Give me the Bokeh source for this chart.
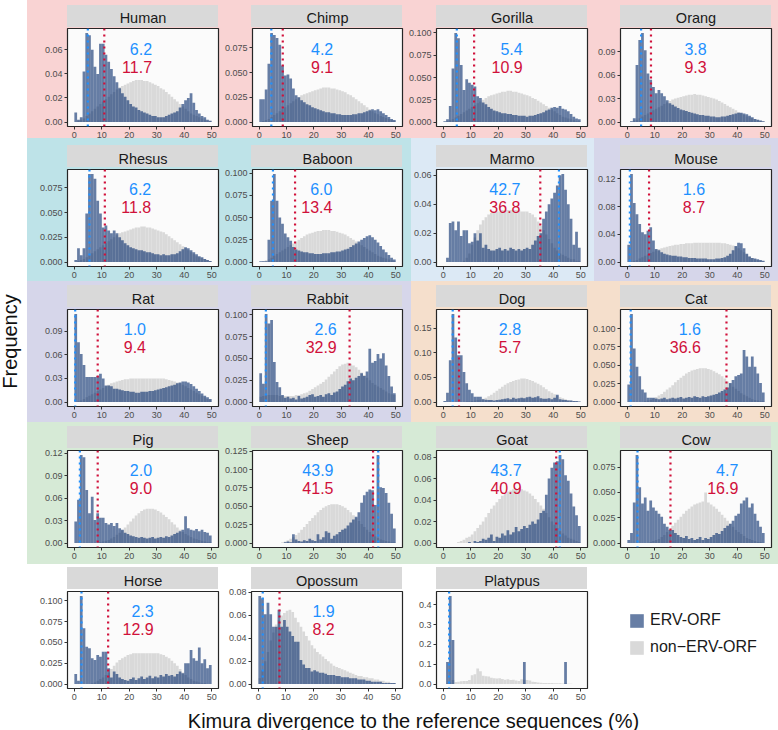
import math
from bokeh.plotting import figure
from bokeh.layouts import row, column
from bokeh.models import (Range1d, FixedTicker, PrintfTickFormatter, Span, Label,
                          Legend, LegendItem)
from bokeh.embed import file_html
from bokeh.resources import INLINE

# ---------------------------------------------------------------- data
species = ["Human", "Chimp", "Gorilla", "Orang", "Rhesus", "Baboon", "Marmo", "Mouse",
           "Rat", "Rabbit", "Dog", "Cat", "Pig", "Sheep", "Goat", "Cow",
           "Horse", "Opossum", "Platypus"]

# histogram frequencies (in thousandths) for the 1%-wide bins [0,1), [1,2) ... [49,50)
erv_human = [8, 2, 4, 42, 74, 72, 60, 46, 40, 65, 65, 56, 50, 44, 38, 33, 28, 24, 21, 18,
             15, 13, 12, 10, 9, 8, 7, 6, 5, 5, 4, 4, 4, 5, 6, 7, 8, 9, 12, 15,
             18, 20, 24, 16, 10, 7, 5, 4, 2, 1]
non_human = [0, 1, 2, 3, 5, 7, 9, 11, 13, 15, 17, 19, 21, 23, 25, 27, 29, 30, 31, 32,
             33, 34, 35, 35, 35, 34, 34, 33, 32, 31, 30, 28, 27, 25, 23, 21, 19, 17, 15, 13,
             11, 9, 7, 6, 5, 4, 3, 2, 1, 1]
erv_chimp = [23, 23, 33, 59, 90, 88, 85, 78, 57, 47, 48, 44, 34, 27, 25, 22, 20, 18, 17, 15,
             14, 13, 12, 11, 10, 10, 9, 9, 8, 8, 7, 7, 7, 7, 8, 8, 9, 9, 10, 11,
             12, 13, 12, 13, 11, 9, 7, 5, 3, 2]
non_chimp = [0, 1, 2, 3, 5, 7, 9, 11, 13, 15, 17, 19, 21, 23, 25, 27, 28, 29, 30, 31,
             32, 33, 34, 35, 35, 35, 34, 34, 33, 32, 31, 30, 28, 27, 25, 23, 21, 19, 17, 15,
             13, 11, 9, 8, 6, 5, 4, 3, 2, 1]
erv_gorilla = [1, 3, 18, 60, 100, 94, 64, 36, 48, 44, 42, 40, 29, 27, 22, 20, 17, 15, 13, 12,
               11, 10, 10, 9, 9, 8, 8, 7, 7, 7, 6, 7, 7, 8, 9, 10, 11, 13, 14, 16,
               17, 16, 18, 15, 14, 12, 9, 6, 4, 3]
non_gorilla = [0, 1, 2, 3, 5, 7, 9, 11, 13, 15, 17, 19, 21, 23, 25, 27, 29, 30, 31, 32,
               33, 34, 34, 35, 35, 34, 34, 33, 32, 31, 30, 29, 27, 26, 24, 22, 20, 18, 16, 14,
               12, 10, 8, 6, 5, 4, 3, 2, 1, 1]
erv_orang = [0, 1, 5, 73, 105, 114, 92, 62, 54, 45, 37, 41, 37, 33, 28, 24, 22, 20, 18, 16,
             15, 14, 13, 12, 11, 10, 9, 9, 8, 8, 7, 7, 6, 6, 7, 7, 8, 9, 10, 11,
             12, 12, 11, 10, 8, 6, 4, 3, 2, 1]
non_orang = [0, 1, 2, 3, 5, 7, 9, 11, 13, 15, 17, 19, 21, 23, 25, 27, 29, 30, 31, 32,
             33, 34, 35, 35, 36, 35, 35, 34, 33, 32, 31, 30, 29, 27, 25, 23, 21, 19, 17, 15,
             13, 11, 9, 7, 6, 5, 4, 3, 2, 1]
erv_rhesus = [2, 14, 7, 14, 49, 89, 89, 84, 62, 49, 35, 37, 32, 29, 32, 29, 25, 22, 19, 17,
              15, 14, 13, 12, 12, 11, 10, 10, 9, 8, 8, 7, 8, 7, 7, 8, 8, 9, 11, 13,
              15, 14, 12, 10, 8, 6, 5, 3, 2, 1]
non_rhesus = [0, 1, 2, 3, 5, 7, 9, 11, 13, 15, 17, 19, 21, 23, 25, 27, 29, 30, 31, 32,
              33, 34, 35, 35, 36, 36, 35, 35, 34, 33, 32, 31, 30, 28, 26, 24, 22, 20, 18, 16,
              14, 12, 10, 8, 6, 5, 4, 3, 2, 1]
erv_baboon = [1, 1, 1, 25, 69, 99, 69, 50, 43, 32, 28, 24, 17, 14, 13, 12, 11, 11, 10, 10,
              9, 9, 9, 10, 10, 10, 11, 11, 12, 12, 13, 14, 15, 17, 19, 21, 23, 25, 27, 29,
              30, 28, 25, 22, 18, 14, 11, 8, 5, 3]
non_baboon = [0, 1, 2, 3, 5, 7, 9, 11, 13, 15, 17, 19, 21, 23, 25, 27, 29, 31, 32, 33,
              34, 35, 35, 36, 36, 36, 35, 35, 34, 33, 32, 31, 29, 27, 25, 23, 21, 19, 17, 15,
              13, 11, 9, 7, 6, 5, 4, 3, 2, 1]
erv_marmo = [0, 3, 27, 28, 22, 28, 18, 22, 22, 13, 14, 20, 15, 20, 10, 12, 9, 8, 8, 9,
             10, 8, 9, 8, 10, 9, 8, 9, 8, 9, 10, 9, 12, 15, 18, 20, 30, 35, 40, 44,
             48, 53, 60, 61, 50, 40, 30, 12, 21, 10]
non_marmo = [0, 0, 0, 0, 0, 0, 0, 1, 3, 6, 12, 17, 22, 26, 29, 31, 33, 34, 35, 35,
             35, 36, 36, 36, 36, 36, 36, 36, 35, 35, 35, 34, 33, 31, 28, 25, 22, 19, 16, 13,
             10, 8, 6, 5, 4, 3, 2, 2, 1, 1]
erv_mouse = [25, 127, 85, 69, 55, 43, 40, 45, 50, 31, 19, 17, 14, 12, 11, 10, 9, 9, 8, 8,
             7, 7, 6, 6, 6, 5, 5, 5, 5, 4, 4, 4, 5, 5, 6, 7, 9, 12, 17, 23,
             28, 27, 20, 12, 8, 6, 5, 4, 3, 2]
non_mouse = [0, 1, 2, 3, 5, 7, 9, 11, 13, 15, 17, 19, 20, 21, 22, 23, 24, 25, 25, 26,
             26, 27, 27, 27, 28, 28, 28, 28, 28, 28, 28, 28, 28, 28, 27, 27, 26, 25, 24, 22,
             20, 17, 14, 11, 8, 6, 4, 3, 2, 1]
erv_rat = [112, 76, 61, 47, 32, 32, 32, 32, 33, 36, 30, 21, 21, 20, 17, 17, 16, 15, 14, 14,
           13, 13, 12, 12, 13, 13, 13, 14, 14, 15, 16, 17, 18, 19, 20, 21, 22, 24, 25, 26,
           26, 25, 23, 20, 17, 14, 11, 8, 6, 4]
non_rat = [0, 1, 2, 4, 6, 8, 10, 12, 14, 16, 18, 20, 22, 24, 25, 26, 27, 28, 29, 29,
           30, 30, 30, 30, 30, 30, 30, 30, 30, 30, 30, 30, 30, 29, 28, 27, 26, 25, 24, 22,
           20, 18, 16, 14, 12, 10, 8, 6, 4, 3]
erv_rabbit = [33, 21, 101, 90, 94, 46, 23, 17, 8, 5, 6, 4, 5, 3, 7, 4, 5, 6, 8, 9,
              6, 7, 8, 6, 9, 10, 8, 11, 12, 15, 18, 20, 24, 27, 25, 28, 30, 33, 30, 35,
              61, 45, 47, 55, 50, 56, 42, 30, 18, 10]
non_rabbit = [6, 7, 8, 8, 8, 8, 8, 7, 7, 7, 7, 7, 7, 8, 8, 9, 10, 11, 13, 15,
              17, 19, 21, 23, 26, 29, 32, 35, 38, 41, 43, 44, 45, 44, 42, 40, 37, 34, 31, 28,
              25, 22, 20, 18, 16, 14, 12, 10, 9, 8]
erv_dog = [2, 19, 85, 179, 131, 95, 95, 61, 38, 25, 18, 11, 11, 11, 6, 5, 4, 4, 3, 4,
           5, 6, 7, 8, 6, 9, 7, 8, 9, 8, 10, 11, 9, 10, 12, 8, 7, 7, 8, 6,
           9, 15, 6, 5, 4, 3, 3, 2, 2, 1]
non_dog = [0, 0, 0, 0, 0, 0, 0, 0, 1, 1, 2, 3, 4, 5, 7, 9, 12, 15, 19, 23,
           27, 31, 35, 38, 41, 43, 45, 46, 48, 48, 47, 45, 43, 40, 37, 34, 30, 26, 22, 19,
           16, 13, 10, 8, 6, 4, 3, 2, 1, 1]
erv_cat = [24, 120, 73, 48, 35, 17, 13, 6, 6, 6, 5, 4, 5, 6, 4, 5, 6, 5, 6, 7,
           5, 6, 7, 6, 8, 7, 6, 8, 7, 8, 9, 10, 11, 13, 15, 17, 20, 26, 30, 35,
           37, 39, 71, 62, 48, 62, 48, 39, 26, 13]
non_cat = [0, 0, 0, 0, 0, 0, 1, 2, 3, 5, 7, 9, 11, 14, 17, 20, 23, 27, 30, 33,
           36, 39, 41, 43, 44, 45, 46, 46, 46, 45, 44, 42, 40, 38, 35, 32, 28, 25, 21, 18,
           15, 12, 10, 8, 6, 4, 3, 2, 1, 1]
erv_pig = [29, 58, 118, 115, 71, 40, 62, 31, 40, 34, 34, 27, 25, 27, 23, 27, 20, 18, 14, 12,
           10, 9, 8, 7, 8, 7, 6, 7, 8, 6, 7, 8, 7, 9, 8, 10, 12, 14, 16, 18,
           36, 20, 18, 17, 19, 16, 18, 15, 14, 10]
non_pig = [0, 0, 0, 0, 0, 0, 0, 0, 0, 1, 2, 3, 4, 6, 8, 11, 14, 17, 21, 25,
           29, 33, 37, 40, 43, 45, 46, 46, 46, 45, 43, 41, 38, 35, 32, 28, 25, 21, 18, 15,
           12, 10, 8, 6, 5, 4, 3, 2, 1, 1]
erv_sheep = [0, 0, 0, 0, 0, 0, 0, 0, 0, 1, 2, 1, 12, 5, 3, 2, 4, 3, 6, 4,
             3, 12, 5, 8, 16, 14, 6, 10, 12, 15, 18, 20, 24, 28, 32, 36, 42, 55, 65, 70,
             73, 72, 52, 120, 76, 75, 68, 55, 40, 20]
non_sheep = [0, 0, 0, 0, 0, 0, 0, 0, 1, 2, 4, 6, 8, 11, 14, 18, 22, 26, 30, 34,
             38, 42, 45, 48, 50, 52, 53, 53, 53, 52, 50, 48, 45, 42, 38, 34, 30, 26, 22, 18,
             15, 12, 9, 7, 5, 4, 3, 2, 1, 1]
erv_goat = [0, 0, 0, 0, 0, 0, 0, 0, 0, 1, 0, 2, 1, 2, 4, 3, 5, 8, 2, 6,
            5, 9, 7, 12, 8, 10, 15, 11, 13, 16, 14, 17, 20, 18, 22, 28, 30, 45, 60, 70,
            75, 76, 82, 78, 63, 58, 46, 34, 26, 16]
non_goat = [0, 0, 0, 0, 0, 1, 2, 3, 5, 6, 8, 11, 14, 17, 20, 24, 28, 32, 35, 38,
            41, 44, 46, 48, 49, 50, 50, 50, 50, 49, 48, 46, 44, 41, 38, 35, 32, 28, 24, 20,
            17, 14, 11, 9, 7, 5, 4, 3, 2, 1]
erv_cow = [3, 10, 40, 87, 55, 39, 45, 32, 42, 35, 32, 29, 26, 19, 16, 13, 13, 10, 8, 6,
           5, 7, 4, 5, 3, 4, 6, 3, 5, 4, 6, 8, 10, 9, 12, 15, 17, 19, 22, 27,
           29, 39, 42, 45, 35, 39, 29, 22, 16, 10]
non_cow = [0, 0, 0, 0, 0, 0, 0, 0, 1, 2, 3, 4, 6, 8, 11, 14, 17, 20, 23, 26,
           29, 32, 34, 36, 38, 39, 40, 41, 50, 40, 38, 36, 34, 31, 28, 25, 22, 19, 16, 13,
           11, 9, 7, 5, 4, 3, 2, 1, 1, 0]
erv_horse = [12, 4, 106, 67, 45, 43, 31, 29, 35, 33, 39, 39, 19, 8, 15, 12, 8, 6, 5, 4,
             6, 8, 5, 7, 9, 6, 8, 10, 7, 9, 8, 11, 9, 12, 10, 11, 9, 12, 15, 13,
             25, 25, 41, 31, 28, 44, 25, 30, 19, 23]
non_horse = [0, 0, 0, 0, 0, 0, 1, 2, 4, 6, 8, 11, 14, 18, 22, 26, 29, 31, 33, 35,
             36, 37, 37, 37, 37, 37, 37, 37, 37, 37, 37, 36, 35, 33, 31, 28, 25, 22, 18, 14,
             11, 8, 6, 4, 3, 2, 1, 1, 0, 0]
erv_opossum = [77, 75, 61, 71, 61, 50, 50, 65, 50, 56, 50, 46, 42, 37, 37, 21, 17, 14, 14, 11,
               12, 11, 10, 10, 9, 8, 8, 8, 7, 7, 6, 6, 6, 5, 5, 5, 4, 4, 4, 3,
               3, 2, 2, 2, 2, 1, 1, 1, 1, 1]
non_opossum = [5, 12, 20, 28, 38, 45, 52, 56, 60, 62, 64, 65, 63, 58, 54, 50, 46, 42, 38, 34,
               31, 28, 26, 24, 22, 20, 18, 16, 15, 14, 13, 12, 11, 10, 9, 8, 7, 7, 6, 6,
               5, 5, 4, 4, 3, 3, 2, 2, 1, 1]
erv_platypus = [0, 111, 444, 222, 0, 0, 0, 0, 0, 0, 0, 0, 0, 0, 0, 0, 0, 0, 0, 0,
                0, 0, 0, 0, 0, 0, 0, 0, 0, 111, 0, 0, 0, 0, 0, 0, 0, 0, 0, 0,
                0, 0, 0, 0, 111, 0, 0, 0, 0, 0]
non_platypus = [0, 3, 8, 20, 10, 12, 14, 16, 15, 20, 45, 50, 78, 65, 42, 40, 38, 32, 30, 28,
                30, 26, 22, 24, 20, 22, 18, 16, 25, 22, 20, 18, 12, 10, 8, 7, 6, 6, 5, 5,
                4, 4, 4, 3, 3, 2, 2, 1, 1, 1]

erv_values = [erv_human, erv_chimp, erv_gorilla, erv_orang, erv_rhesus, erv_baboon,
              erv_marmo, erv_mouse, erv_rat, erv_rabbit, erv_dog, erv_cat, erv_pig,
              erv_sheep, erv_goat, erv_cow, erv_horse, erv_opossum, erv_platypus]
non_values = [non_human, non_chimp, non_gorilla, non_orang, non_rhesus, non_baboon,
              non_marmo, non_mouse, non_rat, non_rabbit, non_dog, non_cat, non_pig,
              non_sheep, non_goat, non_cow, non_horse, non_opossum, non_platypus]

# printed summary values
erv_summary = [6.2, 4.2, 5.4, 3.8, 6.2, 6.0, 42.7, 1.6, 1.0, 2.6, 2.8, 1.6, 2.0,
               43.9, 43.7, 4.7, 2.3, 1.9, None]
non_summary = [11.7, 9.1, 10.9, 9.3, 11.8, 13.4, 36.8, 8.7, 9.4, 32.9, 5.7, 36.6, 9.0,
               41.5, 40.9, 16.9, 12.9, 8.2, None]
# dotted reference lines (divergence %)
erv_line = [4.9, 4.4, 4.9, 5.0, 5.5, 5.0, 42.1, 0.9, 0.3, 2.4, 3.4, 1.2, 2.0,
            43.6, 42.4, 3.7, 2.6, 1.6, 2.1]
non_line = [10.9, 8.6, 11.2, 8.6, 11.1, 13.1, 35.3, 7.9, 8.5, 33.1, 5.7, 36.1, 8.5,
            41.7, 41.1, 15.7, 12.3, 7.7, None]

x_ticks = [0, 10, 20, 30, 40, 50]
y_ticks = [[0, 0.02, 0.04, 0.06], [0, 0.025, 0.05, 0.075], [0, 0.025, 0.05, 0.075, 0.1],
           [0, 0.03, 0.06, 0.09], [0, 0.025, 0.05, 0.075], [0, 0.025, 0.05, 0.075, 0.1],
           [0, 0.02, 0.04, 0.06], [0, 0.04, 0.08, 0.12], [0, 0.03, 0.06, 0.09],
           [0, 0.025, 0.05, 0.075, 0.1], [0, 0.05, 0.1, 0.15], [0, 0.025, 0.05, 0.075, 0.1],
           [0, 0.03, 0.06, 0.09, 0.12], [0, 0.025, 0.05, 0.075, 0.1, 0.125],
           [0, 0.02, 0.04, 0.06, 0.08], [0, 0.025, 0.05, 0.075], [0, 0.025, 0.05, 0.075, 0.1],
           [0, 0.02, 0.04, 0.06, 0.08], [0, 0.1, 0.2, 0.3, 0.4]]
y_digits = [2, 3, 3, 2, 3, 3, 2, 2, 2, 3, 2, 3, 2, 3, 2, 3, 3, 2, 1]
legend_labels = ["ERV-ORF", "non\u2212ERV-ORF"]

# ---------------------------------------------------------------- layout / style
label_x = [28.3, 27.1, 28.9, 28.9, 28.0, 26.8, 28.1, 28.3, 26.1, 28.4, 28.3, 26.8, 28.3,
           27.2, 28.5, 40.4, 28.9, 27.8, 28.0]
COL_W = [194, 184, 184, 189]
COL_LB = [40, 30, 31, 31]
ROW_H = [145, 140, 141, 141, 138]
ROW_TB = [28, 23, 23, 23, 23]
FRAME_W, FRAME_H = 151, 98
LEFT_PAD = 27
FONT = "Liberation Sans"
ERV_COLOR, ERV_ALPHA = "#0A2E6E", 0.62
NON_COLOR = "#D9D9D9"
BLUE, RED = "#1E90FF", "#D0103A"
STRIP = "#D9D9D9"

bands = [("#F9D3D3", 27, 0, 751, 138),
         ("#BEE3E8", 27, 138, 384, 143),
         ("#DCE9F5", 411, 138, 183, 143),
         ("#D6D6EA", 594, 138, 184, 143),
         ("#D6D6EA", 27, 281, 384, 141),
         ("#F5DFCC", 411, 281, 367, 141),
         ("#D6EAD6", 27, 422, 751, 142)]

left_edges = list(range(0, 50))
right_edges = list(range(1, 51))

def layer(color, x, y, w, h):
    return f"linear-gradient({color}, {color}) {x}px {y}px / {w}px {h}px no-repeat"

strip_layers = []
rows = [[] for _ in range(5)]
for idx, name in enumerate(species):
    r, c = divmod(idx, 4)
    erv = [v / 1000 for v in erv_values[idx]]
    non = [v / 1000 for v in non_values[idx]]
    m = max(max(erv), max(non))
    y0, y1 = -0.05 * m, 1.05 * m

    p = figure(width=COL_W[c], height=ROW_H[r], x_range=Range1d(-2.5, 52.5),
               y_range=Range1d(y0, y1), output_backend="svg", toolbar_location=None,
               tools="", title=name,
               min_border_left=COL_LB[c], min_border_right=COL_W[c] - COL_LB[c] - FRAME_W,
               min_border_top=ROW_TB[r], min_border_bottom=ROW_H[r] - ROW_TB[r] - FRAME_H)
    p.title.align = "center"
    p.title.text_font = FONT
    p.title.text_font_size = "14.5px"
    p.title.text_font_style = "normal"
    p.title.text_color = "#1A1A1A"
    p.title.text_line_height = 1.0
    p.title.standoff = 6
    p.border_fill_color = None
    p.background_fill_color = "#FBFBFB"
    p.outline_line_color = "#262626"
    p.outline_line_width = 1.2
    p.xgrid.visible = False
    p.ygrid.visible = False
    p.xaxis.ticker = FixedTicker(ticks=x_ticks)
    p.yaxis.ticker = FixedTicker(ticks=y_ticks[idx])
    p.yaxis.formatter = PrintfTickFormatter(format=f"%.{y_digits[idx]}f")
    for ax in (p.xaxis[0], p.yaxis[0]):
        ax.axis_line_color = None
        ax.major_tick_line_color = "#333333"
        ax.major_tick_out = 3
        ax.major_tick_in = 0
        ax.minor_tick_line_color = None
        ax.major_label_text_font_size = "9px"
        ax.major_label_text_font = FONT
        ax.major_label_text_color = "#4D4D4D"
        ax.major_label_standoff = 2

    p.quad(left=left_edges, right=right_edges, bottom=0, top=non,
           fill_color=NON_COLOR, line_color=None)
    p.quad(left=left_edges, right=right_edges, bottom=0, top=erv,
           fill_color=ERV_COLOR, fill_alpha=ERV_ALPHA, line_color=None)

    p.add_layout(Span(location=erv_line[idx], dimension="height", line_color=BLUE,
                      line_width=2.2, line_dash="dotted"))
    if non_line[idx] is not None:
        p.add_layout(Span(location=non_line[idx], dimension="height", line_color=RED,
                          line_width=2.2, line_dash="dotted"))

    def ypx(px):
        return y1 - px / FRAME_H * (y1 - y0)

    if erv_summary[idx] is not None:
        p.add_layout(Label(x=label_x[idx], y=ypx(20), text=f"{erv_summary[idx]:.1f}",
                           text_align="right", text_baseline="middle", text_color=BLUE,
                           text_font_size="16px", text_font=FONT))
        p.add_layout(Label(x=label_x[idx], y=ypx(38), text=f"{non_summary[idx]:.1f}",
                           text_align="right", text_baseline="middle", text_color=RED,
                           text_font_size="16px", text_font=FONT))
    rows[r].append(p)

    fl = LEFT_PAD + sum(COL_W[:c]) + COL_LB[c]
    ft = sum(ROW_H[:r]) + ROW_TB[r]
    strip_layers.append(layer(STRIP, fl, ft - 23, FRAME_W, 22))

# legend cell: the two series (Platypus values) drawn below the visible range, only
# their legend swatches show
lg = figure(width=COL_W[3], height=ROW_H[4], x_range=Range1d(0, 50), y_range=Range1d(1, 2),
            x_axis_type=None, y_axis_type=None, output_backend="svg",
            toolbar_location=None, tools="", title=None, min_border=0)
lg.outline_line_color = None
lg.background_fill_color = None
lg.border_fill_color = None
lg.xgrid.visible = False
lg.ygrid.visible = False
r_erv = lg.quad(left=left_edges, right=right_edges, bottom=0,
                top=[v / 1000 for v in erv_platypus], fill_color=ERV_COLOR,
                fill_alpha=ERV_ALPHA, line_color=None)
r_non = lg.quad(left=left_edges, right=right_edges, bottom=0,
                top=[v / 1000 for v in non_platypus], fill_color=NON_COLOR, line_color=None)
legend = Legend(items=[LegendItem(label=legend_labels[0], renderers=[r_erv]),
                       LegendItem(label=legend_labels[1], renderers=[r_non])],
                location=(39, 32), orientation="vertical", glyph_width=17, glyph_height=17,
                label_height=17, spacing=9, padding=0, margin=0, label_standoff=5,
                label_text_font_size="16px", label_text_font=FONT,
                label_text_color="#1A1A1A", border_line_color=None,
                background_fill_color=None)
lg.add_layout(legend, "center")
rows[4].append(lg)

# axis titles
yl = figure(width=LEFT_PAD, height=sum(ROW_H), x_range=Range1d(0, LEFT_PAD),
            y_range=Range1d(0, sum(ROW_H)), x_axis_type=None, y_axis_type=None,
            output_backend="svg", toolbar_location=None, tools="", title=None, min_border=0)
yl.outline_line_color = None
yl.background_fill_color = None
yl.border_fill_color = None
yl.add_layout(Label(x=9.5, y=sum(ROW_H) - 341, text="Frequency", angle=math.pi / 2,
                    text_align="center", text_baseline="middle", text_font_size="20px",
                    text_font=FONT, text_color="#111111"))

xl = figure(width=778, height=25, x_range=Range1d(0, 778), y_range=Range1d(0, 25),
            x_axis_type=None, y_axis_type=None, output_backend="svg",
            toolbar_location=None, tools="", title=None, min_border=0)
xl.outline_line_color = None
xl.background_fill_color = None
xl.border_fill_color = None
xl.add_layout(Label(x=413, y=10, text="Kimura divergence to the reference sequences (%)",
                    text_align="center", text_baseline="middle", text_font_size="20px",
                    text_font=FONT, text_color="#111111"))

grid = column(*[row(*rw) for rw in rows])
root = column(row(yl, grid), xl)
root.styles = {"background": ", ".join(strip_layers + [layer(*b) for b in bands])}

open("out.html", "w").write(file_html(root, INLINE))
